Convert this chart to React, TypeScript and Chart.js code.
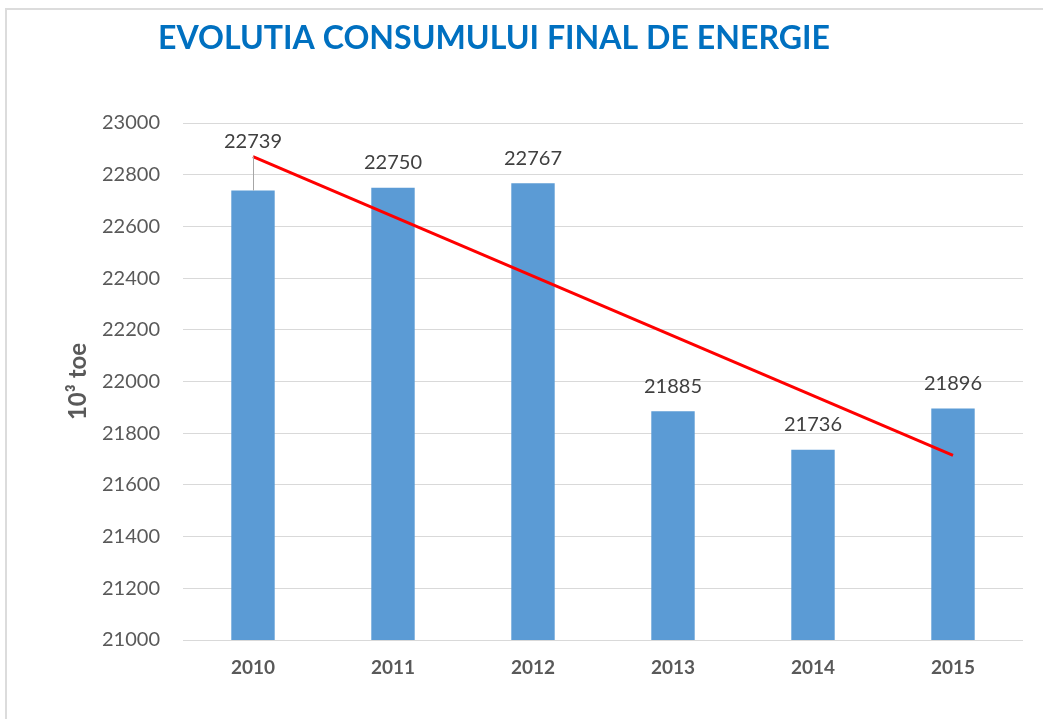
import React, { useEffect, useRef } from "react";
import { Chart, registerables } from "chart.js";

Chart.register(...registerables);

const categories = ["2010", "2011", "2012", "2013", "2014", "2015"];
const consumption = [22739, 22750, 22767, 21885, 21736, 21896];
const trendline: (number | null)[] = [22870, null, null, null, null, 21714];
const yMin = 21000;
const yMax = 23000;
const yStep = 200;
const titleText = "EVOLUTIA CONSUMULUI FINAL DE ENERGIE";
const yTitle = "10³ toe";

const W = 1043;
const H = 719;

const decorPlugin = {
  id: "decor",
  afterDatasetsDraw(chart: any) {
    const ctx = chart.ctx;
    const meta = chart.getDatasetMeta(1);
    ctx.save();
    ctx.font = "20px Lato";
    ctx.fillStyle = "#404040";
    ctx.textAlign = "center";
    ctx.textBaseline = "middle";
    meta.data.forEach((el: any, i: number) => {
      const v = consumption[i];
      if (i === 0) {
        ctx.strokeStyle = "#a6a6a6";
        ctx.lineWidth = 1;
        ctx.beginPath();
        ctx.moveTo(Math.round(el.x) + 0.5, el.y - 34);
        ctx.lineTo(Math.round(el.x) + 0.5, el.y);
        ctx.stroke();
        ctx.fillText(String(v), el.x, el.y - 49);
      } else {
        ctx.fillText(String(v), el.x, el.y - 25);
      }
    });
    ctx.restore();
  },
  afterDraw(chart: any) {
    const ctx = chart.ctx;
    const area = chart.chartArea;
    ctx.save();
    ctx.fillStyle = "#0070C0";
    ctx.font = "bold 33px Lato";
    ctx.textAlign = "center";
    ctx.textBaseline = "middle";
    ctx.fillText(titleText, 494, 38, 672);
    ctx.translate(78, (area.top + area.bottom) / 2);
    ctx.rotate(-Math.PI / 2);
    ctx.fillStyle = "#595959";
    ctx.font = "bold 24px Lato";
    ctx.fillText(yTitle, 0, 0);
    ctx.restore();
  },
};

export default function App() {
  const ref = useRef<HTMLCanvasElement | null>(null);
  useEffect(() => {
    document.body.style.margin = "0";
    const canvas = ref.current;
    if (!canvas) return;
    const chart = new Chart(canvas, {
      type: "bar",
      data: {
        labels: categories,
        datasets: [
          {
            type: "line",
            label: "Trend",
            data: trendline,
            borderColor: "#FF0000",
            borderWidth: 3,
            pointRadius: 0,
            spanGaps: true,
            order: 0,
          } as any,
          {
            type: "bar",
            label: "Consum",
            data: consumption,
            backgroundColor: "#5B9BD5",
            borderWidth: 0,
            categoryPercentage: 1,
            barPercentage: 0.31,
            order: 1,
          },
        ],
      },
      options: {
        animation: false,
        responsive: false,
        layout: { padding: { top: 123, right: 20, left: 0, bottom: 0 } },
        plugins: {
          legend: { display: false },
          title: { display: false },
          tooltip: { enabled: false },
        },
        scales: {
          x: {
            grid: { display: false, drawTicks: false },
            border: { display: false },
            ticks: {
              color: "#595959",
              font: { family: "Lato", size: 19, weight: "bold" },
              padding: 16,
            },
            afterFit: (s: any) => {
              s.height = H - 640;
            },
          },
          y: {
            min: yMin,
            max: yMax,
            grid: { color: "#d9d9d9", lineWidth: 1, drawTicks: false },
            border: { display: false },
            ticks: {
              stepSize: yStep,
              color: "#595959",
              font: { family: "Lato", size: 20 },
              padding: 23,
              callback: (v: any) => String(v),
            },
            afterFit: (s: any) => {
              s.width = 183;
            },
          },
        },
      },
      plugins: [decorPlugin],
    });
    return () => chart.destroy();
  }, []);

  return (
    <div style={{ position: "relative", width: W, height: H, background: "#fff" }}>
      <canvas ref={ref} width={W} height={H} style={{ position: "absolute", left: 0, top: 0 }} />
      <div
        style={{
          position: "absolute",
          left: 5,
          top: 8,
          right: 0,
          bottom: 0,
          borderTop: "2px solid #dcdcdc",
          borderLeft: "2px solid #dcdcdc",
          pointerEvents: "none",
        }}
      />
    </div>
  );
}
